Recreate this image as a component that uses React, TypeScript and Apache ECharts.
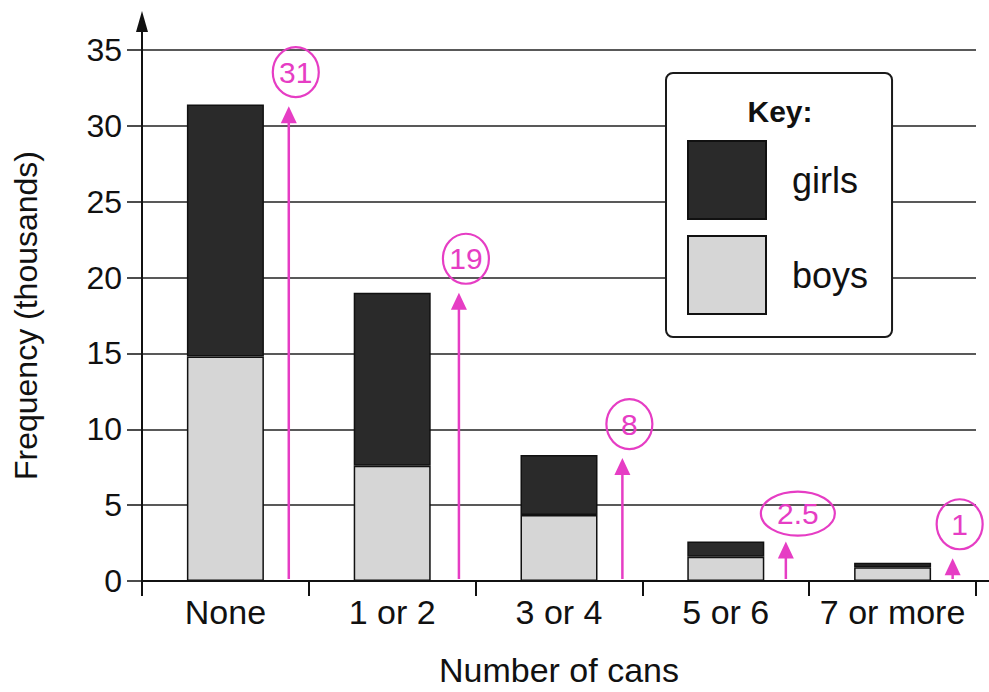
import React, { useEffect, useRef } from "react";
import * as echarts from "echarts";

const categories = ["None", "1 or 2", "3 or 4", "5 or 6", "7 or more"];
const boys = [14.8, 7.6, 4.35, 1.6, 0.9];
const girls = [16.6, 11.4, 3.95, 1.0, 0.3];
const yTicks = { min: 0, max: 35, interval: 5 };
const annotX = [0.88, 1.9, 2.88, 3.86, 4.86];
const annotTip = [31.3, 19, 8.1, 2.6, 1.5];
const annotLabel = ["31", "19", "8", "2.5", "1"];

const PINK = "#e63dc4";
const FONT = "Liberation Sans, Arial, sans-serif";
const GRID = { left: 142, right: 13, top: 50, bottom: 111 };

export default function App() {
  const ref = useRef<HTMLDivElement>(null);
  useEffect(() => {
    document.body.style.margin = "0";
    if (!ref.current) return;
    const chart = echarts.init(ref.current, null, { renderer: "svg" });
    const W = 989;
    const H = 692;
    const axisX = GRID.left;
    const axisBottom = H - GRID.bottom;
    const option: any = {
      animation: false,
      backgroundColor: "#ffffff",
      textStyle: { fontFamily: FONT },
      grid: { ...GRID },
      legend: {
        data: ["girls", "boys"],
        orient: "vertical",
        left: 666,
        top: 73,
        itemWidth: 78,
        itemHeight: 78,
        itemGap: 15,
        padding: [67, 24, 22, 21],
        backgroundColor: "#ffffff",
        borderColor: "#1a1a1a",
        borderWidth: 2,
        borderRadius: 7,
        icon: "rect",
        textStyle: {
          fontSize: 36,
          color: "#111",
          fontFamily: FONT,
          padding: [0, 0, 0, 21],
        },
        selectedMode: false,
      },
      xAxis: [
        {
          type: "category",
          data: categories,
          boundaryGap: true,
          axisLine: { lineStyle: { color: "#111", width: 2 } },
          axisTick: { show: true, length: 15, lineStyle: { color: "#111", width: 2 } },
          axisLabel: { interval: 0, fontSize: 34, color: "#111", margin: 14, fontFamily: FONT },
          name: "Number of cans",
          nameLocation: "middle",
          nameGap: 72,
          nameTextStyle: { fontSize: 34, color: "#111", fontFamily: FONT },
          splitLine: { show: false },
        },
        {
          type: "value",
          min: 0,
          max: 5,
          show: false,
        },
      ],
      yAxis: {
        type: "value",
        min: yTicks.min,
        max: yTicks.max,
        interval: yTicks.interval,
        axisLine: { show: true, lineStyle: { color: "#111", width: 2 } },
        axisTick: { show: true, length: 15, lineStyle: { color: "#111", width: 1.5 } },
        axisLabel: { fontSize: 32, color: "#111", margin: 20, fontFamily: FONT },
        splitLine: { show: true, lineStyle: { color: "#222", width: 1.5 } },
        name: "Frequency (thousands)",
        nameLocation: "middle",
        nameGap: 100,
        nameTextStyle: { fontSize: 32, color: "#111", fontFamily: FONT },
      },
      graphic: [
        {
          type: "line",
          z: 100,
          shape: { x1: axisX, y1: GRID.top, x2: axisX, y2: 28 },
          style: { stroke: "#111", lineWidth: 2 },
        },
        {
          type: "polygon",
          z: 100,
          shape: { points: [[axisX, 11], [axisX - 6, 32], [axisX + 6, 32]] },
          style: { fill: "#111" },
        },
        {
          type: "line",
          z: 100,
          shape: { x1: W - GRID.right, y1: axisBottom, x2: W, y2: axisBottom },
          style: { stroke: "#111", lineWidth: 2 },
        },
        {
          type: "text",
          z: 100,
          x: 780,
          y: 111,
          style: {
            text: "Key:",
            fontSize: 30,
            fontWeight: "bold",
            fontFamily: FONT,
            fill: "#111",
            align: "center",
            verticalAlign: "middle",
          },
        },
      ],
      series: [
        {
          name: "boys",
          type: "bar",
          stack: "total",
          data: boys,
          barWidth: 77,
          itemStyle: { color: "#d6d6d6", borderColor: "#111", borderWidth: 1.5 },
        },
        {
          name: "girls",
          type: "bar",
          stack: "total",
          data: girls,
          barWidth: 77,
          itemStyle: { color: "#2a2a2a", borderColor: "#111", borderWidth: 1.5 },
        },
        {
          name: "annotations",
          type: "custom",
          xAxisIndex: 1,
          yAxisIndex: 0,
          z: 10,
          data: annotX.map((x, i) => [x, annotTip[i], i]),
          encode: { x: 0, y: 1 },
          renderItem: (params: any, api: any) => {
            const x = api.value(0);
            const v = api.value(1);
            const i = api.value(2);
            const top = api.coord([x, v]);
            const bot = api.coord([x, 0]);
            const label = annotLabel[i];
            const wide = label.length > 2;
            const cx = top[0] + (wide ? 12 : 7);
            const cy = top[1] - (wide ? 28 : 34);
            return {
              type: "group",
              children: [
                {
                  type: "line",
                  shape: { x1: top[0], y1: top[1] + 6, x2: bot[0], y2: bot[1] - 2 },
                  style: { stroke: PINK, lineWidth: 2.5 },
                },
                {
                  type: "polygon",
                  shape: {
                    points: [
                      [top[0], top[1]],
                      [top[0] - 8, top[1] + 17],
                      [top[0] + 8, top[1] + 17],
                    ],
                  },
                  style: { fill: PINK },
                },
                {
                  type: "ellipse",
                  shape: { cx, cy, rx: wide ? 37 : 23, ry: wide ? 22 : 25 },
                  style: { fill: "none", stroke: PINK, lineWidth: 2.2 },
                },
                {
                  type: "text",
                  style: {
                    text: label,
                    x: cx,
                    y: cy,
                    align: "center",
                    verticalAlign: "middle",
                    fill: PINK,
                    fontSize: 30,
                    fontFamily: FONT,
                  },
                },
              ],
            };
          },
        },
      ],
    };
    chart.setOption(option);
    return () => chart.dispose();
  }, []);
  return <div ref={ref} style={{ width: 989, height: 692 }} />;
}
